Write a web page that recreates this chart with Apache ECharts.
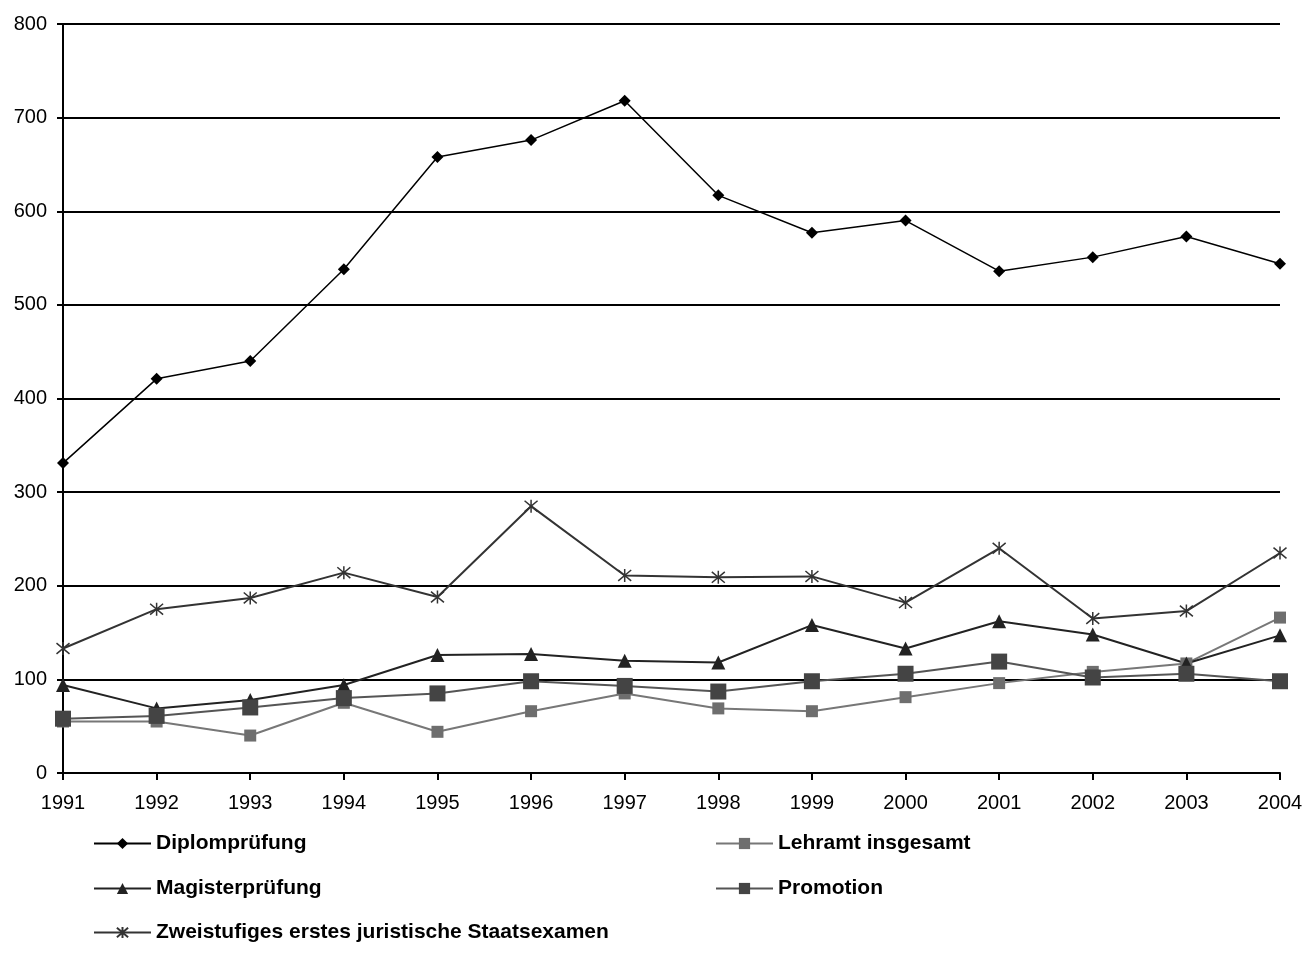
<!DOCTYPE html>
<html>
<head>
<meta charset="utf-8">
<script src="https://cdn.jsdelivr.net/npm/echarts@6/dist/echarts.min.js"></script>
<style>html,body{margin:0;padding:0;background:#fff;}#c{width:1307px;height:977px;}</style>
</head>
<body>
<div id="c"></div>
<script>
const years = ['1991','1992','1993','1994','1995','1996','1997','1998','1999','2000','2001','2002','2003','2004'];
const yTicks = [0,100,200,300,400,500,600,700,800];
const diplom = [331,421,440,538,658,676,718,617,577,590,536,551,573,544];
const lehramt = [55,55,40,75,44,66,85,69,66,81,96,108,117,166];
const magister = [94,69,78,94,126,127,120,118,158,133,162,148,117,147];
const promotion = [58,61,70,80,85,98,93,87,98,106,119,102,106,98];
const zweistufig = [133,175,187,214,188,285,211,209,210,182,240,165,173,235];

const names = ['Diplomprüfung','Lehramt insgesamt','Magisterprüfung','Promotion','Zweistufiges erstes juristische Staatsexamen'];
const FONT = '"Liberation Sans", Arial, sans-serif';
const asterisk = 'path://M0,0L10,10M10,0L0,10M5,-1L5,11';

function legendAt(name, left, top){
  return {
    data:[name], left:left, top:top, orient:'horizontal',
    itemWidth:57, itemHeight:14, itemGap:5, padding:0,
    textStyle:{fontFamily:FONT,fontSize:21,fontWeight:'bold',color:'#000'},
    selectedMode:false
  };
}

const chart = echarts.init(document.getElementById('c'));
chart.setOption({
  animation:false,
  backgroundColor:'#fff',
  grid:{left:63,right:27,top:24,bottom:204,containLabel:false},
  legend:[
    legendAt(names[0],93,833),
    legendAt(names[1],715,833),
    legendAt(names[2],93,878),
    legendAt(names[3],715,878),
    legendAt(names[4],93,922)
  ],
  xAxis:{
    type:'category', data:years, boundaryGap:false,
    axisLine:{lineStyle:{color:'#000',width:2}},
    axisTick:{show:true,length:7,lineStyle:{color:'#000',width:2},alignWithLabel:true},
    axisLabel:{fontFamily:FONT,fontSize:20,color:'#000',margin:20},
    splitLine:{show:false}
  },
  yAxis:{
    type:'value', min:0, max:800, interval:100,
    axisLine:{show:true,lineStyle:{color:'#000',width:2}},
    axisTick:{show:true,length:6,lineStyle:{color:'#000',width:2}},
    axisLabel:{fontFamily:FONT,fontSize:20,color:'#000',margin:16,
      formatter:function(v){return yTicks.indexOf(v)>=0?String(v):'';}},
    splitLine:{show:true,lineStyle:{color:'#000',width:2}}
  },
  series:[
    {name:names[0],type:'line',data:diplom,symbol:'diamond',symbolSize:12,
      lineStyle:{color:'#000',width:1.5},itemStyle:{color:'#000'}},
    {name:names[1],type:'line',data:lehramt,symbol:'rect',symbolSize:12,
      lineStyle:{color:'#777',width:2},itemStyle:{color:'#6e6e6e'}},
    {name:names[2],type:'line',data:magister,symbol:'triangle',symbolSize:14,
      lineStyle:{color:'#222',width:2},itemStyle:{color:'#222'}},
    {name:names[3],type:'line',data:promotion,symbol:'rect',symbolSize:16,
      lineStyle:{color:'#555',width:2},itemStyle:{color:'#444'}},
    {name:names[4],type:'line',data:zweistufig,symbol:asterisk,symbolSize:13,
      lineStyle:{color:'#333',width:2},itemStyle:{color:'#333',borderColor:'#333',borderWidth:1.5}}
  ]
});
</script>
</body>
</html>
